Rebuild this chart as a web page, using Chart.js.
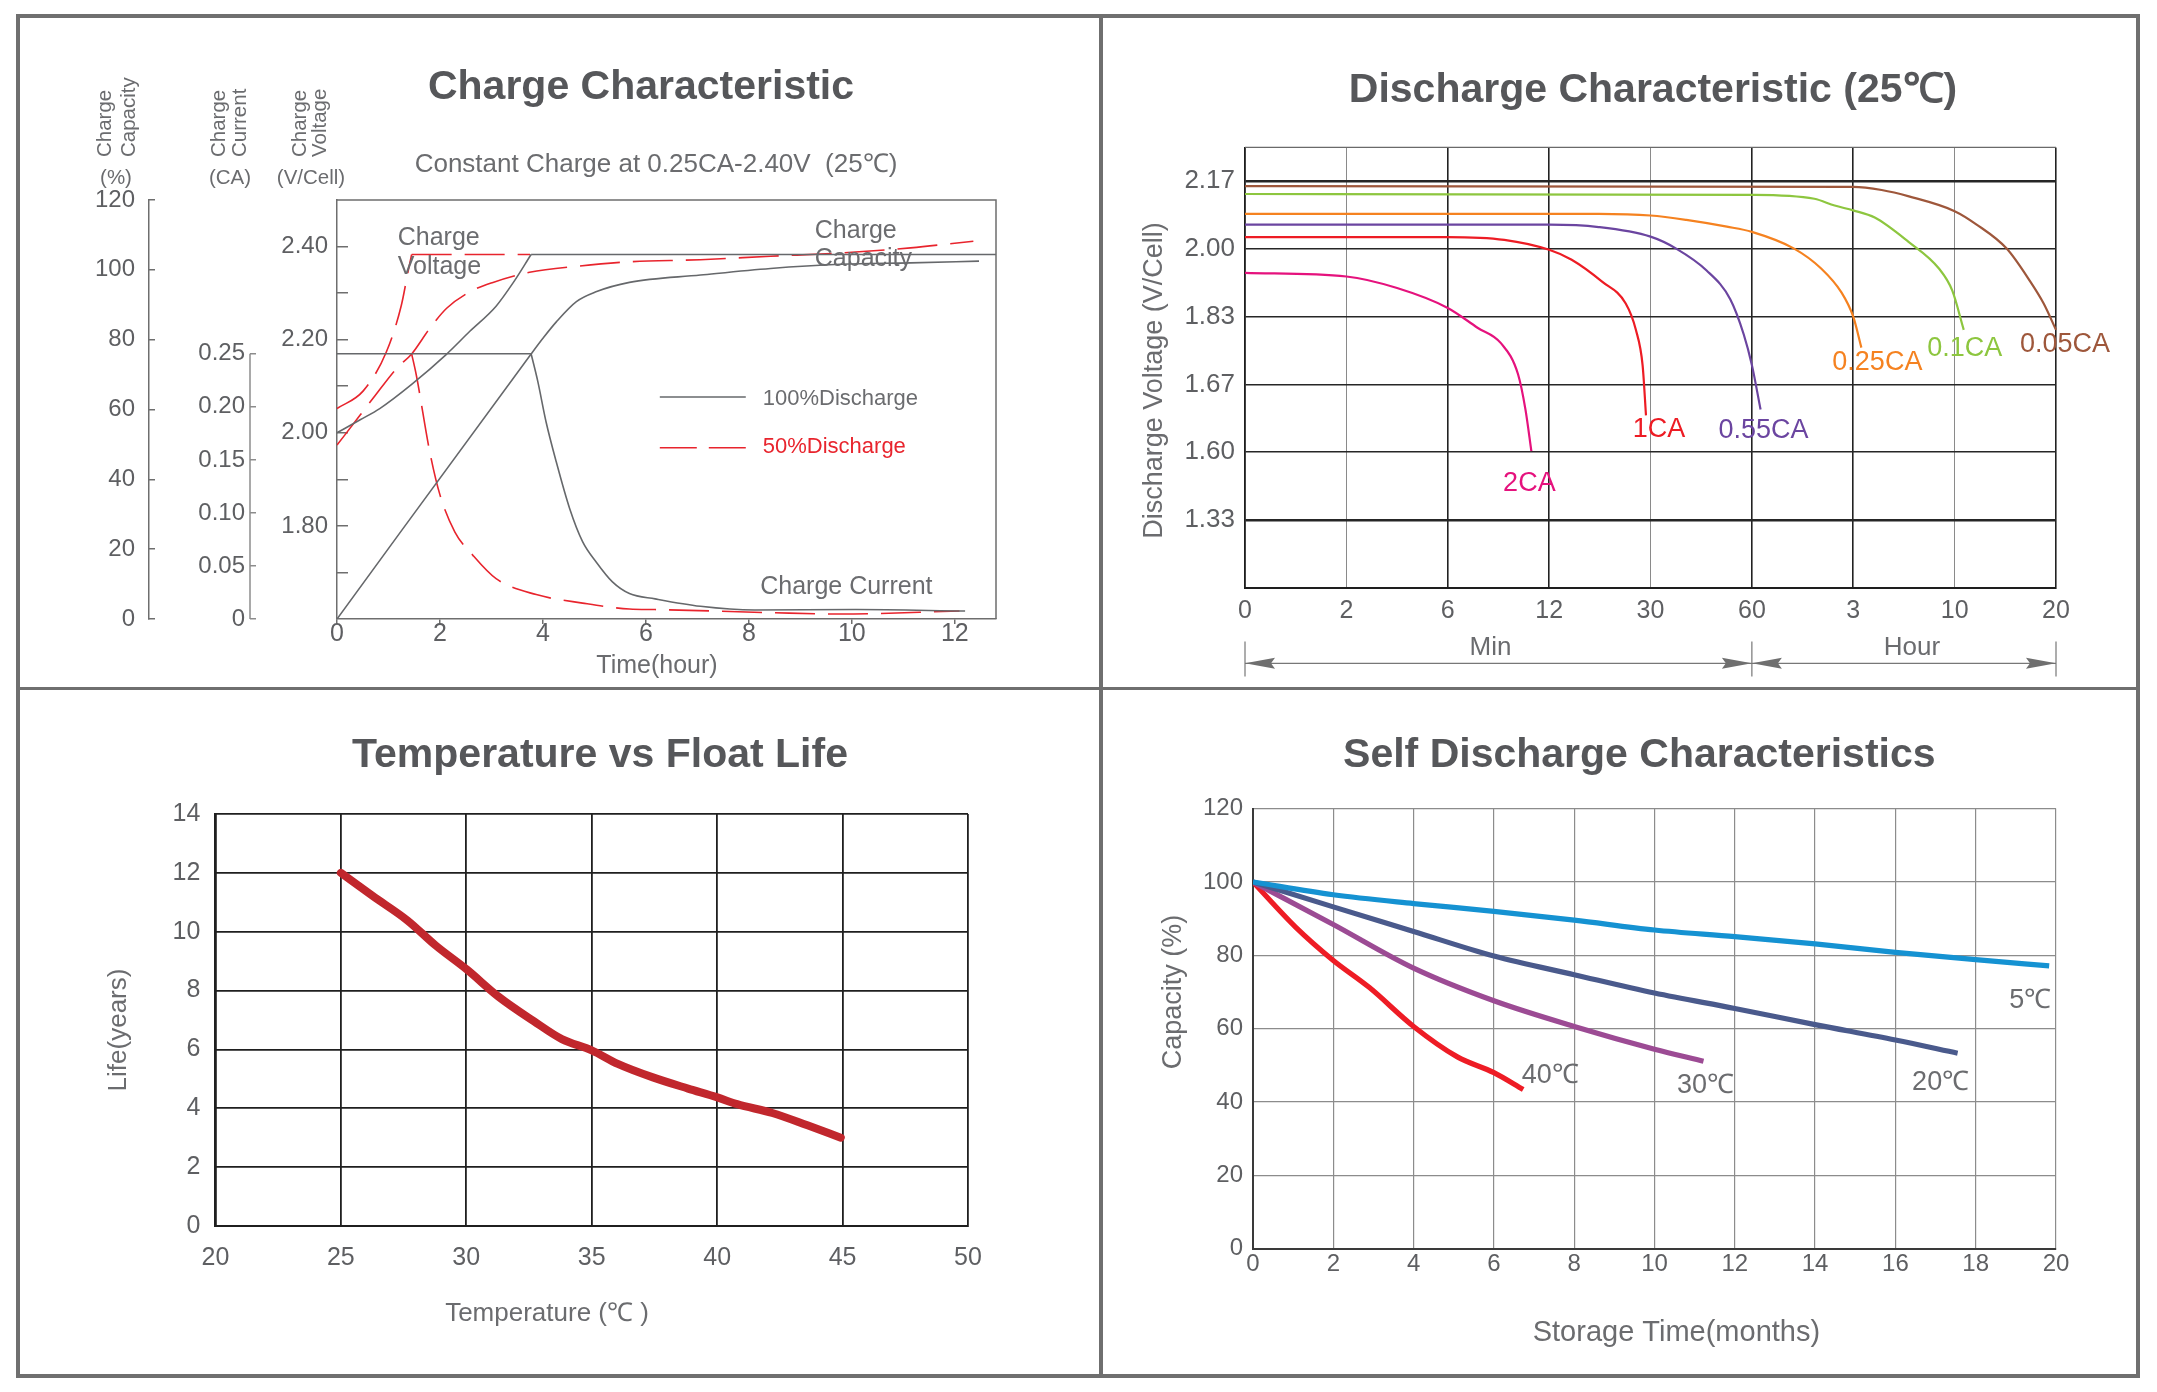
<!DOCTYPE html>
<html>
<head>
<meta charset="utf-8">
<title>Battery characteristics</title>
<script src="https://cdn.jsdelivr.net/npm/chart.js@4.4.1/dist/chart.umd.min.js"></script>
<style>
  html, body { margin:0; padding:0; background:#ffffff; }
  body { position:relative; width:2157px; height:1392px; overflow:hidden; }
  canvas { position:absolute; display:block; }
  .rule { position:absolute; background:#6f6f6f; z-index:5; }
</style>
</head>
<body>
<canvas id="c1" width="1079" height="669" style="left:20px;top:18px;width:1079px;height:669px"></canvas>
<canvas id="c2" width="1033" height="669" style="left:1103px;top:18px;width:1033px;height:669px"></canvas>
<canvas id="c3" width="1079" height="684" style="left:20px;top:690px;width:1079px;height:684px"></canvas>
<canvas id="c4" width="1033" height="684" style="left:1103px;top:690px;width:1033px;height:684px"></canvas>
<div class="rule" style="left:16px;top:14px;width:2124px;height:4px"></div>
<div class="rule" style="left:16px;top:1374px;width:2124px;height:4px"></div>
<div class="rule" style="left:16px;top:14px;width:4px;height:1364px"></div>
<div class="rule" style="left:2136px;top:14px;width:4px;height:1364px"></div>
<div class="rule" style="left:1099px;top:14px;width:4px;height:1364px"></div>
<div class="rule" style="left:16px;top:687px;width:2124px;height:3px"></div>
<script>
// ================= DATA =================
// --- Charge Characteristic (time in hours) ---
const chargeHourTicks = [0, 2, 4, 6, 8, 10, 12];
const capacityTicks = [0, 20, 40, 60, 80, 100, 120];
const currentTicks = [0, 0.05, 0.10, 0.15, 0.20, 0.25];
const currentTickLabels = ['0', '0.05', '0.10', '0.15', '0.20', '0.25'];
const voltageTicks = [1.7, 1.8, 1.9, 2.0, 2.1, 2.2, 2.3, 2.4];
const voltageTickLabels = ['', '1.80', '', '2.00', '', '2.20', '', '2.40'];

// 100% discharge (solid gray)
const v100RiseHour = [0, 0.45, 0.83, 1.45, 2.12, 2.58, 3.09, 3.42, 3.77];
const v100RiseVolt = [2.000, 2.028, 2.052, 2.104, 2.168, 2.218, 2.272, 2.322, 2.383];
const v100HoldHour = [3.77, 12.8];
const v100HoldVolt = [2.383, 2.383];
const i100HoldHour = [0, 3.77];
const i100HoldCA = [0.25, 0.25];
const i100TaperHour = [3.77, 3.90, 4.06, 4.26, 4.52, 4.77, 5.03, 5.35, 5.68, 6.18, 7.06, 8.11, 10.08, 12.2];
const i100TaperCA = [0.25, 0.224, 0.186, 0.148, 0.104, 0.073, 0.054, 0.035, 0.024, 0.019, 0.012, 0.0085, 0.0089, 0.0075];
const q100Hour = [0, 3.77, 4.0, 4.26, 4.65, 5.03, 5.68, 7.06, 8.42, 9.78, 11.14, 12.47];
const q100Pct = [0, 75.9, 80.4, 85.1, 90.9, 93.7, 96.4, 98.5, 100.4, 101.6, 102.0, 102.5];

// 50% discharge (dashed red)
const v50RiseHour = [0, 0.51, 0.96, 1.25, 1.38, 1.45];
const v50RiseVolt = [2.052, 2.090, 2.174, 2.274, 2.346, 2.383];
const v50HoldHour = [1.45, 3.75];
const v50HoldVolt = [2.383, 2.383];
const i50Hour = [1.45, 1.54, 1.80, 2.0, 2.29, 2.64, 3.09, 3.87, 4.77, 5.68, 6.18, 8.42, 9.78, 12.09];
const i50CA = [0.25, 0.230, 0.158, 0.117, 0.082, 0.060, 0.038, 0.023, 0.015, 0.0094, 0.0089, 0.006, 0.0047, 0.0075];
const q50Hour = [0, 0.45, 0.70, 1.16, 1.45, 1.80, 2.13, 2.58, 3.03, 3.74, 4.71, 5.68, 7.06, 8.42, 9.78, 11.14, 12.36];
const q50Pct = [49.8, 58.4, 63.2, 71.8, 75.9, 83.2, 89.0, 93.7, 96.4, 99.3, 101.1, 102.3, 102.9, 103.9, 104.8, 106.3, 108.2];

// --- Discharge Characteristic (time in minutes) ---
const dischargeMinuteTicks = [0, 2, 6, 12, 30, 60, 180, 600, 1200];
const dischargeTickLabels = ['0', '2', '6', '12', '30', '60', '3', '10', '20'];
const dischargeVoltTicks = [1.33, 1.60, 1.67, 1.83, 2.00, 2.17];
const dischargeVoltBounds = [1.06, 2.255];

const ca2Min = [0, 2, 4, 6, 7.76, 9.16, 10.16, 10.6, 10.95];
const ca2Volt = [1.940, 1.931, 1.902, 1.852, 1.804, 1.767, 1.694, 1.644, 1.601];
const ca1Min = [0, 6, 9.35, 12, 16.0, 21.4, 25.6, 27.4, 28.6, 29.2];
const ca1Volt = [2.030, 2.030, 2.023, 1.998, 1.973, 1.918, 1.863, 1.799, 1.715, 1.638];
const ca055Min = [0, 12, 20.8, 30, 37.6, 46.6, 53.6, 57.6, 60.1, 70.3];
const ca055Volt = [2.061, 2.061, 2.055, 2.031, 2.001, 1.946, 1.874, 1.788, 1.715, 1.644];
const ca025Min = [0, 20.8, 30, 40.6, 52.6, 60, 110, 142, 166, 180, 213.6];
const ca025Volt = [2.088, 2.088, 2.084, 2.073, 2.056, 2.043, 2.001, 1.951, 1.891, 1.830, 1.757];
const ca01Min = [0, 60, 134, 158, 180, 269, 409, 535, 590, 654];
const ca01Volt = [2.138, 2.136, 2.126, 2.109, 2.097, 2.079, 2.018, 1.951, 1.896, 1.799];
const ca005Min = [0, 180, 297.6, 410.6, 600, 728, 908, 1048, 1127, 1200];
const ca005Volt = [2.158, 2.156, 2.148, 2.132, 2.095, 2.062, 2.001, 1.918, 1.863, 1.799];
const dischargeNames = ['2CA', '1CA', '0.55CA', '0.25CA', '0.1CA', '0.05CA'];

// --- Temperature vs Float Life ---
const tempTicks = [20, 25, 30, 35, 40, 45, 50];
const lifeTicks = [0, 2, 4, 6, 8, 10, 12, 14];
const tempC = [25, 26.26, 27.66, 28.77, 30.03, 31.29, 32.69, 33.81, 35.0, 36.04, 37.44, 38.84, 40.01, 40.8, 42.2, 43.6, 44.93];
const lifeYears = [12.0, 11.22, 10.38, 9.54, 8.71, 7.79, 6.96, 6.35, 5.97, 5.51, 5.05, 4.67, 4.37, 4.14, 3.84, 3.42, 3.0];

// --- Self Discharge Characteristics ---
const monthTicks = [0, 2, 4, 6, 8, 10, 12, 14, 16, 18, 20];
const selfCapTicks = [0, 20, 40, 60, 80, 100, 120];
const months5 = [0, 2, 4, 6, 8, 10, 12, 14, 16, 18, 19.83];
const cap5 = [100, 96.5, 94.1, 92.0, 89.6, 86.9, 85.1, 83.1, 80.8, 78.8, 77.1];
const months20 = [0, 2, 4, 6, 8, 10, 12, 14, 16, 17.55];
const cap20 = [100, 93.2, 86.5, 79.8, 74.7, 69.7, 65.5, 61.1, 56.9, 53.3];
const months30 = [0, 2, 4, 6, 8, 10, 11.22];
const cap30 = [100, 88.4, 76.5, 67.6, 60.6, 54.4, 51.1];
const months40 = [0, 1.06, 2, 2.9, 4, 5.09, 6, 6.73];
const cap40 = [100, 87.7, 78.6, 71.2, 60.6, 52.3, 48.0, 43.4];
const selfNames = ['5℃', '20℃', '30℃', '40℃'];

// ================= STYLE =================
const FONT = "'Liberation Sans', Arial, Helvetica, sans-serif";
const TITLE_C = '#56575a', TXT = '#6b6c6f', TICK_C = '#5e5f62';
const GRAY = '#66686b', RED = '#e8242d', DASH = [40, 13];
Chart.defaults.font.family = FONT;
Chart.defaults.color = TICK_C;

function pts(xs, ys) { return xs.map((x, i) => ({ x: x, y: ys[i] })); }
function ds(label, xs, ys, yAxisID, color, width, dash) {
  return { label, data: pts(xs, ys), xAxisID: 'x', yAxisID, borderColor: color, backgroundColor: color,
    borderWidth: width, borderDash: dash || [], pointRadius: 0, fill: false,
    cubicInterpolationMode: 'monotone', borderCapStyle: 'butt', borderJoinStyle: 'round' };
}
function setTicks(arr) { return s => { s.ticks = arr.map(v => ({ value: v })); }; }
function text(ctx, s, x, y, font, color, align, baseline, rot) {
  ctx.save();
  ctx.font = font; ctx.fillStyle = color;
  ctx.textAlign = align || 'center'; ctx.textBaseline = baseline || 'alphabetic';
  ctx.translate(x, y);
  if (rot) ctx.rotate(rot);
  ctx.fillText(s, 0, 0);
  ctx.restore();
}
function hline(ctx, x1, x2, y, color, w, dash) {
  ctx.save(); ctx.strokeStyle = color; ctx.lineWidth = w; ctx.setLineDash(dash || []);
  ctx.beginPath(); ctx.moveTo(x1, y); ctx.lineTo(x2, y); ctx.stroke(); ctx.restore();
}
function endLabel(chart, i, s, dx, dy, font, color) {
  const pts = chart.getDatasetMeta(i).data;
  const p = pts[pts.length - 1];
  text(chart.ctx, s, p.x + dx, p.y + dy, font, color, 'center', 'middle');
}
const baseOpts = { responsive: false, devicePixelRatio: 1, animation: false, events: [],
  plugins: { legend: { display: false }, tooltip: { enabled: false } } };

// piecewise-linear scale (equal spacing between listed break values)
const PIECES = {
  x: { values: dischargeMinuteTicks, slots: [0, 1, 2, 3, 4, 5, 6, 7, 8] },
  y: { values: [dischargeVoltBounds[0]].concat(dischargeVoltTicks, [dischargeVoltBounds[1]]), slots: [0, 1, 2, 3, 4, 5, 6, 6.5] }
};
class PiecewiseScale extends Chart.LinearScale {
  determineDataLimits() { const v = PIECES[this.id].values; this.min = v[0]; this.max = v[v.length - 1]; }
  buildTicks() { return (this.id === 'x' ? dischargeMinuteTicks : dischargeVoltTicks).map(v => ({ value: v })); }
  getPixelForValue(value) {
    const P = PIECES[this.id], v = P.values, sl = P.slots, n = v.length - 1;
    let i = 0;
    while (i < n - 1 && value > v[i + 1]) i++;
    const slot = sl[i] + (value - v[i]) / (v[i + 1] - v[i]) * (sl[i + 1] - sl[i]);
    return this.getPixelForDecimal(slot / sl[n]);
  }
  getValueForPixel(pixel) {
    const P = PIECES[this.id], v = P.values, sl = P.slots, n = v.length - 1;
    const slot = this.getDecimalForPixel(pixel) * sl[n];
    let i = 0;
    while (i < n - 1 && slot > sl[i + 1]) i++;
    return v[i] + (slot - sl[i]) / (sl[i + 1] - sl[i]) * (v[i + 1] - v[i]);
  }
}
PiecewiseScale.id = 'piecewise';
PiecewiseScale.defaults = {};
Chart.register(PiecewiseScale);

// ================= CHART 1 : Charge Characteristic =================
const p1Decor = { id: 'p1Decor', afterDraw(chart) {
  const ctx = chart.ctx, a = chart.chartArea, s = chart.scales;
  ctx.save(); ctx.strokeStyle = '#6e6e6e'; ctx.lineWidth = 1.5;
  ctx.beginPath(); ctx.moveTo(a.left, a.top); ctx.lineTo(a.right, a.top); ctx.lineTo(a.right, a.bottom); ctx.stroke();
  ctx.strokeStyle = '#8c8c8c'; ctx.lineWidth = 1.5;
  ctx.beginPath(); ctx.moveTo(s.yI.right, s.yI.getPixelForValue(0));
  ctx.lineTo(s.yI.right, s.yI.getPixelForValue(currentTicks[currentTicks.length - 1])); ctx.stroke();
  ctx.restore();
  const f20 = '20.5px ' + FONT, f25 = '25px ' + FONT, f22 = '22px ' + FONT;
  text(ctx, 'Charge Characteristic', 621, 81, 'bold 41px ' + FONT, TITLE_C);
  text(ctx, 'Constant Charge at 0.25CA-2.40V  (25℃)', 636, 153.6, '26px ' + FONT, TXT);
  const R = -Math.PI / 2;
  text(ctx, 'Charge', 90.5, 139, f20, TXT, 'left', 'alphabetic', R);
  text(ctx, 'Capacity', 115, 139, f20, TXT, 'left', 'alphabetic', R);
  text(ctx, 'Charge', 204.5, 139, f20, TXT, 'left', 'alphabetic', R);
  text(ctx, 'Current', 226, 139, f20, TXT, 'left', 'alphabetic', R);
  text(ctx, 'Charge', 285.5, 139, f20, TXT, 'left', 'alphabetic', R);
  text(ctx, 'Voltage', 306, 139, f20, TXT, 'left', 'alphabetic', R);
  text(ctx, '(%)', 96, 166, f20, TXT);
  text(ctx, '(CA)', 210, 166, f20, TXT);
  text(ctx, '(V/Cell)', 291, 166, f20, TXT);
  text(ctx, 'Time(hour)', 637, 654.5, f25, TXT);
  const X = s.x, V = s.yV, I = s.yI;
  text(ctx, 'Charge', X.getPixelForValue(1.18), V.getPixelForValue(2.403), f25, TXT, 'left');
  text(ctx, 'Voltage', X.getPixelForValue(1.18), V.getPixelForValue(2.341), f25, TXT, 'left');
  text(ctx, 'Charge', X.getPixelForValue(9.28), V.getPixelForValue(2.419), f25, TXT, 'left');
  text(ctx, 'Capacity', X.getPixelForValue(9.28), V.getPixelForValue(2.358), f25, TXT, 'left');
  text(ctx, 'Charge Current', X.getPixelForValue(8.22), I.getPixelForValue(0.0236), f25, TXT, 'left');
  hline(ctx, X.getPixelForValue(6.27), X.getPixelForValue(7.94), V.getPixelForValue(2.077), GRAY, 1.6);
  hline(ctx, X.getPixelForValue(6.27), X.getPixelForValue(7.94), V.getPixelForValue(1.968), RED, 1.6, [37, 12]);
  text(ctx, '100%Discharge', X.getPixelForValue(8.27), V.getPixelForValue(2.059), f22, TXT, 'left');
  text(ctx, '50%Discharge', X.getPixelForValue(8.27), V.getPixelForValue(1.956), f22, RED, 'left');
}};

new Chart(document.getElementById('c1'), {
  type: 'line',
  data: { datasets: [
    ds('Voltage 100%', v100RiseHour, v100RiseVolt, 'yV', GRAY, 1.6),
    ds('Voltage 100% hold', v100HoldHour, v100HoldVolt, 'yV', GRAY, 1.6),
    ds('Current 100% CC', i100HoldHour, i100HoldCA, 'yI', GRAY, 1.6),
    ds('Current 100%', i100TaperHour, i100TaperCA, 'yI', GRAY, 1.6),
    ds('Capacity 100%', q100Hour, q100Pct, 'yQ', GRAY, 1.6),
    ds('Voltage 50%', v50RiseHour, v50RiseVolt, 'yV', RED, 1.6, DASH),
    ds('Voltage 50% hold', v50HoldHour, v50HoldVolt, 'yV', RED, 1.6, DASH),
    ds('Current 50%', i50Hour, i50CA, 'yI', RED, 1.6, DASH),
    ds('Capacity 50%', q50Hour, q50Pct, 'yQ', RED, 1.6, DASH)
  ]},
  options: Object.assign({}, baseOpts, {
    layout: { padding: { left: 29, right: 103, top: 182, bottom: 28 } },
    scales: {
      x: { type: 'linear', position: 'bottom', min: 0, max: 12.8,
        afterBuildTicks: setTicks(chargeHourTicks), afterFit: s => { s.height = 40; },
        grid: { drawOnChartArea: false, drawTicks: true, tickLength: 5, color: '#6e6e6e', lineWidth: 1.5 },
        border: { color: '#6e6e6e', width: 1.5 },
        ticks: { padding: -5, autoSkip: false, maxRotation: 0, font: { size: 25 }, color: TICK_C } },
      yV: { type: 'linear', position: 'left', weight: 0, min: 1.6, max: 2.5,
        afterBuildTicks: setTicks(voltageTicks), afterFit: s => { s.width = 87; },
        grid: { drawOnChartArea: false, drawTicks: true, tickLength: -11, color: '#6e6e6e', lineWidth: 1.5 },
        border: { color: '#6e6e6e', width: 1.5 },
        ticks: { padding: 20, autoSkip: false, font: { size: 24 }, color: TICK_C, callback: (v, i) => voltageTickLabels[i] } },
      yI: { type: 'linear', position: 'left', weight: 1, min: 0, max: 0.395,
        afterBuildTicks: setTicks(currentTicks), afterFit: s => { s.width = 101; },
        grid: { drawOnChartArea: false, drawTicks: true, tickLength: -6, color: '#8c8c8c', lineWidth: 1.5 },
        border: { display: false },
        ticks: { padding: 11, autoSkip: false, font: { size: 24 }, color: TICK_C, callback: (v, i) => currentTickLabels[i] } },
      yQ: { type: 'linear', position: 'left', weight: 2, min: 0, max: 120,
        afterBuildTicks: setTicks(capacityTicks), afterFit: s => { s.width = 100; },
        grid: { drawOnChartArea: false, drawTicks: true, tickLength: -6, color: '#6e6e6e', lineWidth: 1.5 },
        border: { color: '#6e6e6e', width: 1.5 },
        ticks: { padding: 20, autoSkip: false, font: { size: 24 }, color: TICK_C } }
    }
  }),
  plugins: [p1Decor]
});

// ================= CHART 2 : Discharge Characteristic =================
const dischargeColors = ['#e5127d', '#ed1c24', '#6b45a0', '#f58220', '#8dc63f', '#9e573b'];
const dischargeLabelOffsets = [[-2, 32], [13, 14], [3, 21], [16, 15], [1, 19], [9, 15]];
const p2Decor = { id: 'p2Decor', afterDraw(chart) {
  const ctx = chart.ctx, a = chart.chartArea, X = chart.scales.x;
  hline(ctx, a.left, a.right, a.top, '#6a6a6a', 1.2);
  text(ctx, 'Discharge Characteristic (25℃)', 550, 84, 'bold 41px ' + FONT, TITLE_C);
  text(ctx, 'Discharge Voltage (V/Cell)', 52, (a.top + a.bottom) / 2 + 13, '27px ' + FONT, TXT, 'center', 'middle', -Math.PI / 2);
  const x0 = X.getPixelForValue(0), x60 = X.getPixelForValue(60), xEnd = X.getPixelForValue(1200);
  const yTop = a.bottom + 54, yBot = a.bottom + 89, yA = a.bottom + 75.7;
  ctx.save(); ctx.strokeStyle = '#777'; ctx.fillStyle = '#6f6f6f'; ctx.lineWidth = 1.2;
  ctx.beginPath();
  [x0, x60, xEnd].forEach(x => { ctx.moveTo(x, yTop); ctx.lineTo(x, yBot); });
  ctx.moveTo(x0, yA); ctx.lineTo(xEnd, yA); ctx.stroke();
  const head = (x, dir) => { ctx.beginPath(); ctx.moveTo(x, yA); ctx.lineTo(x - dir * 30, yA - 5.5); ctx.lineTo(x - dir * 26, yA); ctx.lineTo(x - dir * 30, yA + 5.5); ctx.closePath(); ctx.fill(); };
  head(x0, -1); head(x60, 1); head(x60, -1); head(xEnd, 1);
  ctx.restore();
  text(ctx, 'Min', (x0 + x60) / 2 - 8, a.bottom + 67.4, '26px ' + FONT, TXT);
  text(ctx, 'Hour', (x60 + xEnd) / 2 + 8, a.bottom + 67.4, '26px ' + FONT, TXT);
  dischargeNames.forEach((n, i) => endLabel(chart, i, n, dischargeLabelOffsets[i][0], dischargeLabelOffsets[i][1], '27px ' + FONT, dischargeColors[i]));
}};
const dischargeSeries = [[ca2Min, ca2Volt], [ca1Min, ca1Volt], [ca055Min, ca055Volt], [ca025Min, ca025Volt], [ca01Min, ca01Volt], [ca005Min, ca005Volt]];
new Chart(document.getElementById('c2'), {
  type: 'line',
  data: { datasets: dischargeSeries.map((s, i) => ds(dischargeNames[i], s[0], s[1], 'y', dischargeColors[i], 2.2)) },
  options: Object.assign({}, baseOpts, {
    layout: { padding: { left: 32, right: 80, top: 129.4, bottom: 49.4 } },
    scales: {
      x: { type: 'piecewise', position: 'bottom', afterFit: s => { s.height = 50; },
        grid: { drawTicks: false, color: c => ([1, 4, 7].includes(c.index) ? '#8a8a8a' : '#222'), lineWidth: c => ([1, 4, 7].includes(c.index) ? 1 : 1.6) },
        border: { color: '#1e1e1e', width: 2 },
        ticks: { padding: 9, autoSkip: false, maxRotation: 0, font: { size: 25 }, color: TICK_C, callback: (v, i) => dischargeTickLabels[i] } },
      y: { type: 'piecewise', position: 'left', afterFit: s => { s.width = 110; },
        grid: { drawTicks: false, color: '#262626', lineWidth: c => ((c.index === 0 || c.index === 5) ? 2.4 : 1.4) },
        border: { color: '#1e1e1e', width: 1.6 },
        ticks: { padding: 10, autoSkip: false, font: { size: 26 }, color: TICK_C, callback: v => v.toFixed(2) } }
    }
  }),
  plugins: [p2Decor]
});

// ================= CHART 3 : Temperature vs Float Life =================
const p3Decor = { id: 'p3Decor', afterDraw(chart) {
  const ctx = chart.ctx;
  text(ctx, 'Temperature vs Float Life', 580, 77, 'bold 41px ' + FONT, TITLE_C);
  text(ctx, 'Life(years)', 99, 340, '26px ' + FONT, TXT, 'center', 'middle', -Math.PI / 2);
  text(ctx, 'Temperature (℃ )', 527, 631, '26px ' + FONT, TXT);
}};
new Chart(document.getElementById('c3'), {
  type: 'line',
  data: { datasets: [Object.assign(ds('Float life', tempC, lifeYears, 'y', '#c1272d', 8), { borderCapStyle: 'round' })] },
  options: Object.assign({}, baseOpts, {
    layout: { padding: { left: 95.4, right: 131, top: 124, bottom: 98 } },
    scales: {
      x: { type: 'linear', position: 'bottom', min: 20, max: 50, afterBuildTicks: setTicks(tempTicks), afterFit: s => { s.height = 50; },
        grid: { drawTicks: false, color: '#1f1f1f', lineWidth: 1.8 }, border: { color: '#1f1f1f', width: 2 },
        ticks: { padding: 17.6, autoSkip: false, maxRotation: 0, font: { size: 25 }, color: TICK_C } },
      y: { type: 'linear', position: 'left', min: 0, max: 14, afterBuildTicks: setTicks(lifeTicks), afterFit: s => { s.width = 100; },
        grid: { drawTicks: false, color: '#1f1f1f', lineWidth: 1.8 }, border: { color: '#1f1f1f', width: 2 },
        ticks: { padding: 15, autoSkip: false, font: { size: 25 }, color: TICK_C } }
    }
  }),
  plugins: [p3Decor]
});

// ================= CHART 4 : Self Discharge Characteristics =================
const selfColors = ['#1592d2', '#4a5a8c', '#9c4b94', '#ee1c25'];
const selfLabelOffsets = [[-19, 35], [-17, 29], [2, 24], [27, -14]];
const p4Decor = { id: 'p4Decor', afterDraw(chart) {
  const ctx = chart.ctx;
  text(ctx, 'Self Discharge Characteristics', 536.3, 77, 'bold 41px ' + FONT, TITLE_C);
  text(ctx, 'Capacity (%)', 71, 302, '27px ' + FONT, TXT, 'center', 'middle', -Math.PI / 2);
  text(ctx, 'Storage Time(months)', 573.4, 651, '29px ' + FONT, TXT);
  selfNames.forEach((n, i) => endLabel(chart, i, n, selfLabelOffsets[i][0], selfLabelOffsets[i][1], '27px ' + FONT, TXT));
}};
const selfSeries = [[months5, cap5], [months20, cap20], [months30, cap30], [months40, cap40]];
new Chart(document.getElementById('c4'), {
  type: 'line',
  data: { datasets: selfSeries.map((s, i) => ds(selfNames[i], s[0], s[1], 'y', selfColors[i], 5.2)) },
  options: Object.assign({}, baseOpts, {
    layout: { padding: { left: 50, right: 80, top: 118.6, bottom: 75.3 } },
    scales: {
      x: { type: 'linear', position: 'bottom', min: 0, max: 20, afterBuildTicks: setTicks(monthTicks), afterFit: s => { s.height = 50; },
        grid: { drawTicks: false, color: '#8c8c8c', lineWidth: 1.2 }, border: { color: '#3a3a3a', width: 2 },
        ticks: { padding: 1.6, autoSkip: false, maxRotation: 0, font: { size: 24 }, color: TICK_C } },
      y: { type: 'linear', position: 'left', min: 0, max: 120, afterBuildTicks: setTicks(selfCapTicks), afterFit: s => { s.width = 100; },
        grid: { drawTicks: false, color: '#8c8c8c', lineWidth: 1.2 }, border: { color: '#3a3a3a', width: 2 },
        ticks: { padding: 10, autoSkip: false, font: { size: 24 }, color: TICK_C } }
    }
  }),
  plugins: [p4Decor]
});
</script>
</body>
</html>
